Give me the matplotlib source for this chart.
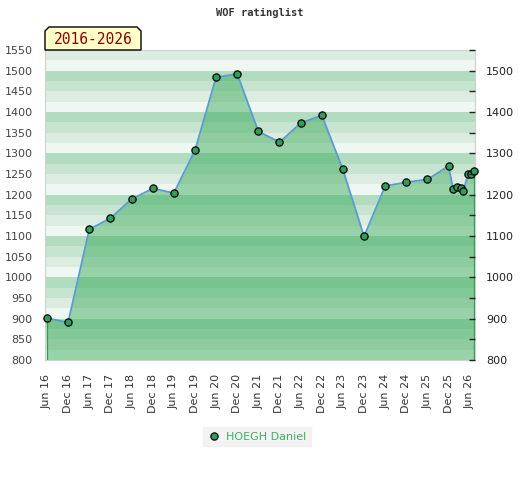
import matplotlib
matplotlib.use("Agg")
import matplotlib.pyplot as plt
from matplotlib.patches import Polygon

# months since Jun 2016
months = [0, 6, 12, 18, 24, 30, 36, 42, 48, 54, 60, 66, 72, 78, 84, 90, 96,
          102, 108, 114, 115.3, 116.5, 117.4, 118.2, 119.5, 120.5, 121.3]
rating = [901, 891, 1116, 1143, 1189, 1215, 1204, 1307, 1484, 1492, 1353,
          1327, 1373, 1392, 1261, 1099, 1221, 1230, 1237, 1269, 1213, 1219,
          1215, 1208, 1250, 1249, 1257]
tick_pos = list(range(0, 121, 6))
tick_lbl = [f"{m} {y}" for y in range(16, 27) for m in ("Jun", "Dec")][:21]

W, H = 520, 480
fig = plt.figure(figsize=(W / 100, H / 100), dpi=100)
ax = fig.add_axes([45 / W, 1 - 360 / H, 430 / W, 310 / H])

ymin, ymax = 800, 1550
band_cols = {75: "#b2dcc0", 50: "#c6e4cf", 25: "#dcece1", 0: "#eff7f2"}
for lo in range(ymin, ymax, 25):
    ax.axhspan(lo, lo + 25, color=band_cols[lo % 100], lw=0, zorder=0)

ax.fill_between(months, rating, ymin, color="#3aaa5a", alpha=0.48, lw=0, zorder=1)
ax.vlines([months[0], months[-1]], ymin, [rating[0], rating[-1]],
          color="#2f9a4c", lw=0.9, zorder=2)
ax.plot(months, rating, color="#5b9bd5", lw=1.3, zorder=3)
ax.plot(months, rating, ls="none", marker="o", ms=5.2, mfc="#2e9e5a",
        mec="black", mew=0.9, zorder=4, clip_on=False, label="HOEGH Daniel")

ax.set_xlim(-0.57, 121.5)
ax.set_ylim(ymin, ymax)
ax.set_yticks(range(800, 1551, 50))
ax.tick_params(axis="y", length=0, pad=9, labelsize=8, labelcolor="#444444")
ax.set_xticks(tick_pos)
ax.set_xticklabels(tick_lbl, rotation=90)
ax.tick_params(axis="x", length=0, pad=10, labelsize=8, labelcolor="#333333")
for s in ax.spines.values():
    s.set_color("#d0d0d0")

ax2 = ax.twinx()
ax2.set_ylim(ymin, ymax)
ax2.set_yticks(range(800, 1551, 50))
ax2.set_yticklabels([str(v) if v % 100 == 0 else "" for v in range(800, 1551, 50)])
ax2.tick_params(axis="y", direction="in", length=4, width=1, color="#222222",
                pad=8, labelsize=8, labelcolor="#222222")
for s in ax2.spines.values():
    s.set_visible(False)

fig.text(0.5, 1 - 13 / H, "WOF ratinglist", ha="center", va="center",
         family="DejaVu Sans Mono", weight="bold", fontsize=7.5, color="#333333")

# year-range badge with chamfered top corners
px = lambda x, y: (x / W, 1 - y / H)
badge = Polygon([px(45, 50), px(45, 31), px(49, 27), px(137, 27), px(141, 31),
                 px(141, 50)], closed=True, transform=fig.transFigure,
                facecolor="#ffffc8", edgecolor="black", lw=1, zorder=5)
fig.patches.append(badge)
fig.text(93 / W, 1 - 40 / H, "2016-2026", ha="center", va="center",
         family="DejaVu Sans Mono", fontsize=10.5, color="#8b0000", zorder=6)

leg = fig.legend(loc="center", bbox_to_anchor=(257 / W, 1 - 436.5 / H),
                 frameon=True, fontsize=8, handletextpad=0.5,
                 borderpad=0.4, handlelength=1.2, fancybox=False)
leg.get_frame().set_facecolor("#f0f0f0")
leg.get_frame().set_edgecolor("#f0f0f0")
for t in leg.get_texts():
    t.set_color("#3cae62")

fig.savefig("out.png", dpi=100)
